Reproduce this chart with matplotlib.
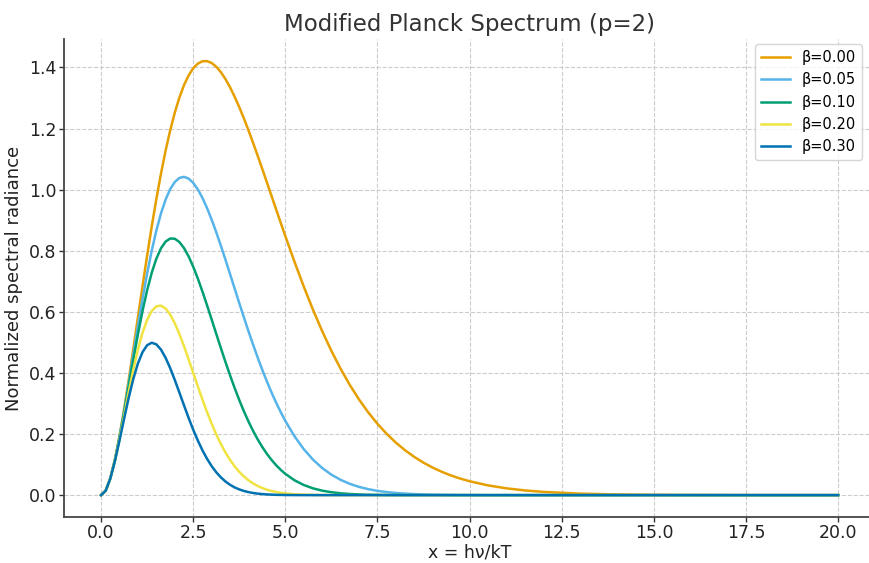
import matplotlib
matplotlib.use("Agg")
import matplotlib.pyplot as plt

# values (x = h nu / kT)
x_vals = [0.0, 0.125, 0.25, 0.375, 0.5, 0.625, 0.75, 0.875, 1.0, 1.125, 1.25, 1.375,
          1.5, 1.625, 1.75, 1.875, 2.0, 2.125, 2.25, 2.375, 2.5, 2.625, 2.75, 2.875,
          3.0, 3.125, 3.25, 3.375, 3.5, 3.625, 3.75, 3.875, 4.0, 4.125, 4.25, 4.375,
          4.5, 4.625, 4.75, 4.875, 5.0,
          5.25, 5.5, 5.75, 6.0, 6.25, 6.5, 6.75, 7.0, 7.25, 7.5, 7.75, 8.0,
          8.25, 8.5, 8.75, 9.0, 9.25, 9.5, 9.75, 10.0, 10.5, 11.0, 11.5,
          12.0, 13.0, 14.0, 15.0, 16.0, 17.0, 18.0, 19.0, 20.0]

beta_000 = [0.0, 0.01467, 0.05502, 0.11590, 0.19269, 0.28119, 0.37769, 0.47890, 0.58198,
            0.68446, 0.78428, 0.87970, 0.96935, 1.05213, 1.12720, 1.19399, 1.25214,
            1.30148, 1.34201, 1.37386, 1.39728, 1.41261, 1.42030, 1.42081, 1.41468,
            1.40247, 1.38474, 1.36207, 1.33503, 1.30418, 1.27006, 1.23321, 1.19407,
            1.15315, 1.11085, 1.06760, 1.02368, 0.97950, 0.93531, 0.89139, 0.84796,
            0.76335, 0.68273, 0.60701, 0.53674, 0.47221, 0.41351, 0.36052, 0.31306,
            0.27082, 0.23346, 0.20059, 0.17181,
            0.14674, 0.12498, 0.10617, 0.08998, 0.07608, 0.06418, 0.05403, 0.04540,
            0.03188, 0.02223, 0.01541,
            0.01062, 0.00497, 0.00228, 0.00103, 0.00046, 0.00020, 0.00009,
            0.00004, 0.00002]
beta_005 = [0.0, 0.01466, 0.05485, 0.11509, 0.19030, 0.27575, 0.36722, 0.46091, 0.55360,
            0.64249, 0.72534, 0.80037, 0.86621, 0.92200, 0.96716, 1.00152, 1.02516,
            1.03844, 1.04190, 1.03624, 1.02228, 1.00091, 0.97312, 0.93984, 0.90204,
            0.86067, 0.81657, 0.77065, 0.72357, 0.67607, 0.62874, 0.58208, 0.53653,
            0.49249, 0.45024, 0.40999, 0.37191, 0.33613, 0.30270, 0.27165, 0.24294,
            0.19240, 0.15045, 0.11623, 0.08872, 0.06697, 0.05001, 0.03695, 0.02701,
            0.01956, 0.01402, 0.00996, 0.00700,
            0.00488, 0.00337, 0.00231, 0.00157, 0.00106, 0.00070, 0.00047, 0.00031,
            0.00013, 0.00005, 0.00002,
            0.00001, 0.0, 0.0, 0.0, 0.0, 0.0, 0.0, 0.0, 0.0]
beta_010 = [0.0, 0.01465, 0.05468, 0.11428, 0.18793, 0.27042, 0.35703, 0.44361, 0.52660,
            0.60309, 0.67084, 0.72816, 0.77405, 0.80798, 0.82982, 0.84008, 0.83933,
            0.82856, 0.80890, 0.78158, 0.74791, 0.70920, 0.66673, 0.62168, 0.57517,
            0.52817, 0.48153, 0.43603, 0.39218, 0.35047, 0.31127, 0.27474, 0.24108,
            0.21033, 0.18249, 0.15745, 0.13512, 0.11536, 0.09796, 0.08278, 0.06960,
            0.04851, 0.03315, 0.02225, 0.01466, 0.00950, 0.00605, 0.00379, 0.00233,
            0.00141, 0.00084, 0.00049, 0.00029,
            0.00016, 0.00009, 0.00005, 0.00003, 0.00001, 0.0, 0.0, 0.0,
            0.0, 0.0, 0.0,
            0.0, 0.0, 0.0, 0.0, 0.0, 0.0, 0.0, 0.0, 0.0]
beta_020 = [0.0, 0.01462, 0.05434, 0.11269, 0.18329, 0.26006, 0.33750, 0.41091, 0.47649,
            0.53140, 0.57380, 0.60273, 0.61809, 0.62043, 0.61094, 0.59107, 0.56262,
            0.52749, 0.48757, 0.44464, 0.40032, 0.35605, 0.31298, 0.27201, 0.23385,
            0.19891, 0.16746, 0.13958, 0.11520, 0.09419, 0.07627, 0.06120, 0.04867,
            0.03837, 0.02997, 0.02322, 0.01783, 0.01359, 0.01027, 0.00768, 0.00572,
            0.00308, 0.00161, 0.00081, 0.00040, 0.00019, 0.00009, 0.00004, 0.00002,
            0.0, 0.0, 0.0, 0.0,
            0.0, 0.0, 0.0, 0.0, 0.0, 0.0, 0.0, 0.0,
            0.0, 0.0, 0.0,
            0.0, 0.0, 0.0, 0.0, 0.0, 0.0, 0.0, 0.0, 0.0]
beta_030 = [0.0, 0.01460, 0.05400, 0.11111, 0.17877, 0.25010, 0.31904, 0.38063, 0.43114,
            0.46822, 0.49079, 0.49889, 0.49356, 0.47647, 0.44977, 0.41588, 0.37713,
            0.33582, 0.29391, 0.25295, 0.21428, 0.17875, 0.14692, 0.11902, 0.09508,
            0.07491, 0.05824, 0.04469, 0.03384, 0.02531, 0.01870, 0.01364, 0.00983,
            0.00700, 0.00492, 0.00343, 0.00235, 0.00160, 0.00108, 0.00071, 0.00047,
            0.00019, 0.00007, 0.00003, 0.00001, 0.0, 0.0, 0.0, 0.0,
            0.0, 0.0, 0.0, 0.0,
            0.0, 0.0, 0.0, 0.0, 0.0, 0.0, 0.0, 0.0,
            0.0, 0.0, 0.0,
            0.0, 0.0, 0.0, 0.0, 0.0, 0.0, 0.0, 0.0, 0.0]

series = [beta_000, beta_005, beta_010, beta_020, beta_030]
labels = ["β=0.00", "β=0.05", "β=0.10", "β=0.20", "β=0.30"]
colors = ["#E69F00", "#56B4E9", "#009E73", "#F0E442", "#0072B2"]
x_ticks = [0, 2.5, 5, 7.5, 10, 12.5, 15, 17.5, 20]
y_ticks = [0.0, 0.2, 0.4, 0.6, 0.8, 1.0, 1.2, 1.4]


def main():
    fig = plt.figure(figsize=(8.69, 5.63), dpi=100)
    # the reference is cropped tight: the axes run a little past the right edge
    ax = fig.add_axes([0.0739, 0.082, 0.933, 0.848])
    for ys, label, color in zip(series, labels, colors):
        ax.plot(x_vals, ys, color=color, linewidth=1.8, label=label)

    ax.set_title("Modified Planck Spectrum (p=2)", fontsize=16.5, color="#333333")
    ax.set_xlabel("x = hν/kT", fontsize=12.5, color="#222222", labelpad=0.5)
    ax.set_ylabel("Normalized spectral radiance", fontsize=13, color="#222222")
    ax.set_xticks(x_ticks)
    ax.set_yticks(y_ticks)
    ax.tick_params(labelsize=12.5, colors="#333333", labelcolor="#222222",
                   length=3.5, width=1.0, pad=2.0)
    ax.grid(True, linestyle="--", color="#cccccc", linewidth=0.8)
    ax.set_axisbelow(True)
    for side in ("top", "right"):
        ax.spines[side].set_visible(False)
    for side in ("left", "bottom"):
        ax.spines[side].set_linewidth(1.3)
        ax.spines[side].set_color("#444444")
    ax.legend(loc="upper right", bbox_to_anchor=(0.993, 1.005), fontsize=10.5)
    fig.savefig("out.png", dpi=100)
    plt.close(fig)


if __name__ == "__main__":
    main()
